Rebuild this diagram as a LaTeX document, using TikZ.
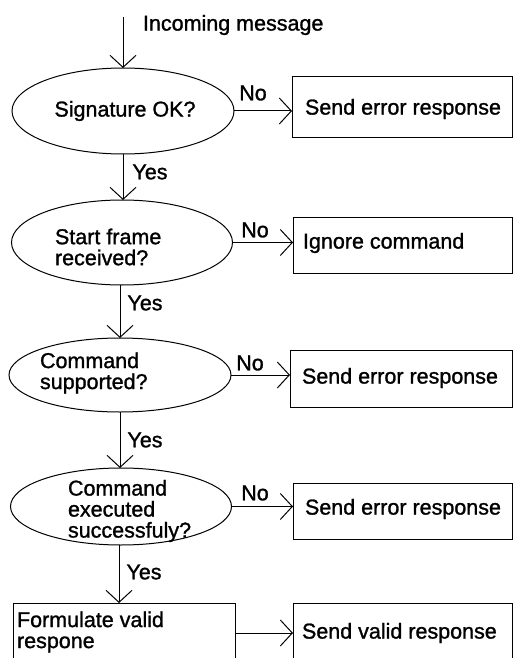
\documentclass[tikz,border=0pt]{standalone}
\usepackage{fontspec}
\setmainfont[FakeBold=1.2,AutoFakeBold=0]{Liberation Sans}
\usetikzlibrary{shapes.geometric,arrows.meta}
\begin{document}
\begin{tikzpicture}[x=1pt,y=-1pt,
  every node/.style={font=\fontsize{21.5}{21}\selectfont, outer sep=0pt},
  decision/.style={draw, ellipse, line width=1pt, inner sep=0pt},
  procbox/.style={draw, rectangle, line width=1pt, inner sep=0pt},
  txt/.style={anchor=west, align=left, inner sep=0pt},
  lbl/.style={inner sep=0pt},
  arr/.style={line width=1pt, -{Straight Barb[length=12pt,width=26pt,line width=1pt]}}
]
\fill[white] (0,0) rectangle (513,658);
\clip (0,0) rectangle (513,658);

% decisions
\node[decision, minimum width=222pt, minimum height=86pt] (e1) at (123,111) {};
\node[decision, minimum width=221pt, minimum height=85pt] (e2) at (122,242.5) {};
\node[decision, minimum width=222pt, minimum height=74pt] (e3) at (120,375) {};
\node[decision, minimum width=221pt, minimum height=77pt] (e4) at (121,506.5) {};

\node[lbl] (t1) at (125,111) {Signature OK?};
\node[txt] (t2) at (55,247) {Start frame\\received?};
\node[txt] (t3) at (40,373) {Command\\supported?};
\node[txt] (t4) at (68,511) {Command\\executed\\successfuly?};

% boxes
\node[procbox, minimum width=220pt, minimum height=60pt] (b1) at (402,107) {};
\node[procbox, minimum width=219pt, minimum height=56pt] (b2) at (402.5,245) {};
\node[procbox, minimum width=222pt, minimum height=57pt] (b3) at (401,378.5) {};
\node[procbox, minimum width=219pt, minimum height=56pt] (b4) at (402.5,511) {};
\node[procbox, minimum width=222pt, minimum height=60pt] (b5) at (124,633) {};
\node[procbox, minimum width=219pt, minimum height=60pt] (b6) at (402.5,633) {};

\node[txt] (s1) at (305,109) {Send error response};
\node[txt] (s2) at (303,243) {Ignore command};
\node[txt] (s3) at (302,378) {Send error response};
\node[txt] (s4) at (305,509) {Send error response};
\node[txt] (s5) at (17,632) {Formulate valid\\respone};
\node[txt] (s6) at (302,633) {Send valid response};

% incoming
\coordinate (in) at (123,17);
\draw[arr] (in) -- (e1.north);
\node[lbl, anchor=west] (inc) at (143,25) {Incoming message};

% vertical arrows
\draw[arr] (e1.south) -- (e1.south |- e2.north);
\draw[arr] (e2.south -| 120,0) -- (e3.north -| 120,0);
\draw[arr] (e3.south -| 120,0) -- (e4.north -| 120,0);
\draw[arr] (e4.south -| 119,0) -- (b5.north -| 119,0);

% horizontal arrows
\draw[arr] (e1.east) -- (e1.east -| b1.west);
\draw[arr] (e2.east) -- (e2.east -| b2.west);
\draw[arr] (e3.east) -- (e3.east -| b3.west);
\draw[arr] (e4.east) -- (e4.east -| b4.west);
\draw[arr] (b5.east) -- (b6.west);

% labels
\node[lbl] (n1) at (253,93) {No};
\node[lbl] (n2) at (255,230) {No};
\node[lbl] (n3) at (250,363) {No};
\node[lbl] (n4) at (255,493) {No};
\node[lbl] (y1) at (150,172) {Yes};
\node[lbl] (y2) at (145,303) {Yes};
\node[lbl] (y3) at (145,440) {Yes};
\node[lbl] (y4) at (144,572) {Yes};
\end{tikzpicture}
\end{document}
